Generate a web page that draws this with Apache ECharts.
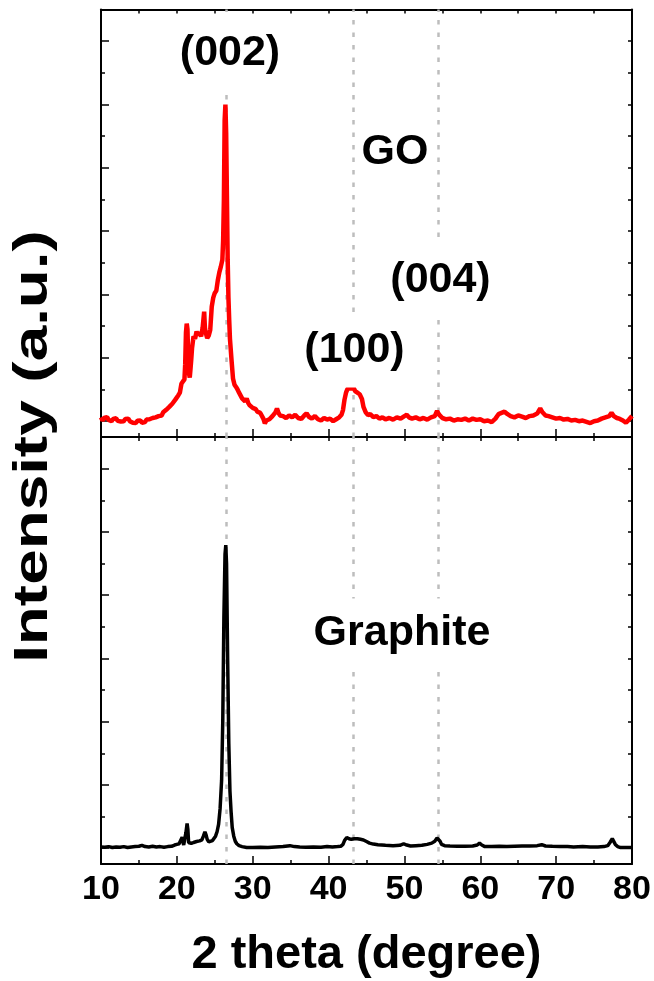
<!DOCTYPE html>
<html>
<head>
<meta charset="utf-8">
<script src="https://cdn.jsdelivr.net/npm/echarts@6/dist/echarts.min.js"></script>
<style>
html, body { margin: 0; padding: 0; background: #fff; }
#main { width: 654px; height: 981px; }
</style>
</head>
<body>
<div id="main"></div>
<script>
var myChart = echarts.init(document.getElementById('main'));

// [2theta (degree), intensity (a.u.)]
var goPattern = [
    [10.0, 62], [10.2, 52], [10.4, 60], [10.6, 55], [10.8, 63], [11.0, 54], [11.2, 58], [11.4, 50],
    [11.6, 57], [11.8, 52], [12.0, 59], [12.2, 51], [12.4, 56], [12.6, 49], [12.8, 55], [13.0, 50],
    [13.2, 57], [13.4, 52], [13.6, 58], [13.8, 50], [14.0, 54], [14.2, 45], [14.4, 50], [14.6, 44],
    [14.8, 51], [15.0, 46], [15.2, 52], [15.4, 45], [15.6, 50], [15.8, 47], [16.0, 55], [16.2, 49],
    [16.4, 56], [16.6, 52], [16.8, 60], [17.0, 55], [17.2, 62], [17.4, 58], [17.6, 66], [17.8, 72],
    [18.0, 68], [18.2, 78], [18.4, 75], [18.6, 86], [18.8, 82], [19.0, 95], [19.2, 92], [19.4, 105],
    [19.6, 108], [19.8, 118], [20.0, 122], [20.2, 132], [20.4, 140], [20.6, 168], [20.8, 175], [21.0, 182],
    [21.1, 230], [21.2, 330], [21.3, 358], [21.4, 340], [21.5, 245], [21.6, 200], [21.7, 188], [21.8, 215],
    [21.9, 245], [22.0, 280], [22.2, 318], [22.4, 310], [22.6, 333], [22.8, 322], [23.0, 330], [23.2, 318],
    [23.4, 345], [23.6, 396], [23.7, 345], [23.8, 330], [24.0, 312], [24.2, 320], [24.4, 338], [24.6, 412],
    [24.8, 440], [25.0, 455], [25.2, 462], [25.4, 495], [25.6, 520], [25.8, 538], [26.0, 560], [26.1, 620],
    [26.2, 748], [26.3, 1000], [26.4, 1050], [26.5, 960], [26.6, 760], [26.7, 560], [26.8, 440], [26.9, 370],
    [27.0, 310], [27.2, 245], [27.4, 185], [27.6, 165], [27.8, 158], [28.0, 150], [28.2, 140], [28.4, 136],
    [28.6, 122], [28.8, 118], [29.0, 112], [29.2, 122], [29.4, 108], [29.6, 100], [29.8, 96], [30.0, 92],
    [30.2, 86], [30.4, 88], [30.6, 80], [30.8, 83], [31.0, 76], [31.2, 74], [31.4, 58], [31.6, 43],
    [31.8, 52], [32.0, 48], [32.2, 56], [32.4, 60], [32.6, 66], [32.8, 72], [33.0, 78], [33.2, 90],
    [33.4, 76], [33.6, 68], [33.8, 62], [34.0, 66], [34.4, 60], [34.8, 68], [35.2, 62], [35.6, 70],
    [36.0, 60], [36.4, 57], [36.8, 68], [37.1, 75], [37.4, 64], [37.8, 58], [38.2, 66], [38.6, 56],
    [39.0, 52], [39.4, 60], [39.8, 55], [40.2, 58], [40.6, 50], [41.0, 56], [41.4, 62], [41.7, 70],
    [41.9, 85], [42.1, 118], [42.3, 140], [42.5, 152], [42.8, 158], [43.0, 150], [43.2, 160], [43.5, 145],
    [43.8, 140], [44.1, 135], [44.4, 120], [44.6, 95], [44.9, 78], [45.2, 69], [45.5, 72], [45.9, 63],
    [46.3, 66], [46.7, 58], [47.1, 62], [47.5, 56], [48.0, 60], [48.5, 55], [49.0, 62], [49.5, 58],
    [50.0, 66], [50.3, 70], [50.6, 62], [51.0, 58], [51.5, 62], [52.0, 56], [52.5, 60], [53.0, 55],
    [53.5, 62], [54.0, 66], [54.3, 82], [54.6, 70], [55.0, 60], [55.5, 56], [56.0, 58], [56.5, 52],
    [57.0, 56], [57.5, 54], [58.0, 58], [58.5, 52], [59.0, 58], [59.5, 54], [60.0, 56], [60.5, 50],
    [61.0, 52], [61.5, 47], [62.0, 58], [62.4, 72], [62.8, 76], [63.2, 80], [63.6, 72], [64.0, 66],
    [64.5, 62], [65.0, 68], [65.5, 64], [66.0, 60], [66.5, 66], [67.0, 68], [67.5, 74], [67.9, 90],
    [68.2, 78], [68.6, 68], [69.0, 66], [69.5, 62], [70.0, 58], [70.5, 60], [71.0, 55], [71.5, 57],
    [72.0, 52], [72.5, 54], [73.0, 50], [73.5, 52], [74.0, 48], [74.5, 44], [75.0, 50], [75.5, 52],
    [76.0, 58], [76.5, 62], [77.0, 66], [77.3, 76], [77.6, 66], [78.0, 60], [78.4, 57], [78.8, 52],
    [79.2, 45], [79.6, 55], [80.0, 66]
];

var graphitePattern = [
    [10.0, 54], [10.5, 53], [11.0, 55], [11.5, 52], [12.0, 54], [12.5, 53], [13.0, 55], [13.5, 52],
    [14.0, 54], [14.5, 55], [15.0, 56], [15.4, 59], [15.8, 55], [16.3, 54], [16.8, 56], [17.3, 54],
    [17.8, 55], [18.3, 53], [18.8, 55], [19.3, 56], [19.7, 60], [20.0, 62], [20.3, 64], [20.5, 68],
    [20.7, 85], [20.8, 70], [20.9, 60], [21.05, 58], [21.2, 100], [21.35, 128], [21.45, 110], [21.55, 68],
    [21.7, 62], [21.9, 65], [22.2, 68], [22.6, 71], [23.0, 73], [23.3, 76], [23.5, 88], [23.7, 102],
    [23.85, 92], [24.0, 78], [24.2, 70], [24.4, 68], [24.7, 74], [24.9, 80], [25.1, 88], [25.3, 102],
    [25.5, 125], [25.7, 175], [25.9, 265], [26.05, 450], [26.2, 780], [26.35, 980], [26.45, 1008], [26.55, 950],
    [26.7, 640], [26.85, 380], [27.0, 230], [27.15, 165], [27.3, 115], [27.5, 88], [27.7, 72], [27.9, 64],
    [28.2, 58], [28.6, 55], [29.2, 52], [30.0, 52], [31.0, 53], [32.0, 52], [33.0, 54], [34.0, 55],
    [34.9, 58], [35.5, 55], [36.2, 54], [37.0, 53], [38.0, 54], [39.0, 53], [39.8, 55], [40.5, 54],
    [41.2, 55], [41.6, 56], [41.9, 62], [42.1, 74], [42.4, 84], [42.7, 80], [43.0, 78], [43.4, 80],
    [43.8, 80], [44.2, 78], [44.6, 76], [45.0, 71], [45.4, 66], [45.9, 63], [46.5, 61], [47.5, 59],
    [48.5, 58], [49.4, 59], [49.9, 64], [50.1, 68], [50.3, 60], [50.8, 57], [51.5, 58], [52.3, 59],
    [53.0, 62], [53.6, 66], [54.0, 72], [54.3, 82], [54.5, 88], [54.7, 72], [54.9, 62], [55.3, 58],
    [56.0, 57], [57.0, 56], [58.0, 56], [59.0, 57], [59.6, 60], [59.9, 66], [60.2, 60], [60.6, 55],
    [61.5, 55], [62.5, 56], [63.5, 55], [64.5, 56], [65.5, 57], [66.5, 57], [67.5, 58], [68.1, 61],
    [68.6, 57], [69.5, 56], [70.5, 55], [71.5, 55], [72.3, 54], [73.5, 55], [74.5, 54], [75.5, 54],
    [76.3, 55], [76.8, 58], [77.1, 68], [77.4, 80], [77.6, 76], [77.8, 62], [78.1, 55], [78.5, 52],
    [79.2, 52], [80.0, 52]
];

// reflection positions marked with dotted lines
var peakLines = [26.5, 43.2, 54.5];

// y ticks (no labels)
var majorTicks = [50, 250, 450, 650, 850, 1050, 1250];
var minorTicks = [150, 350, 550, 750, 950, 1150];
var yMax = 1350;

var FONT = 'Liberation Sans';
var black = '#000';

function xAxisPair(grid, withLabels) {
    var tick = { inside: true, length: 8, lineStyle: { color: black, width: 1.5 } };
    return [{
        gridIndex: grid,
        type: 'value',
        position: 'bottom',
        min: 10,
        max: 80,
        interval: 10,
        axisLine: { onZero: false, lineStyle: { color: black, width: 2 } },
        axisTick: tick,
        minorTick: { show: true, splitNumber: 2, length: 4, lineStyle: { color: black, width: 1.5 } },
        splitLine: { show: false },
        axisLabel: {
            show: withLabels,
            margin: 9,
            color: black,
            fontSize: 34,
            fontWeight: 'bold',
            fontFamily: FONT
        },
        name: withLabels ? '2 theta (degree)' : '',
        nameLocation: 'middle',
        nameGap: 68,
        nameTextStyle: { color: black, fontSize: 47, fontWeight: 'bold', fontFamily: FONT }
    }, {
        gridIndex: grid,
        type: 'value',
        position: 'top',
        min: 10,
        max: 80,
        interval: 10,
        axisLine: { onZero: false, lineStyle: { color: black, width: 2 } },
        axisTick: { inside: true, length: 4, lineStyle: { color: black, width: 1.5 } },
        minorTick: { show: true, splitNumber: 2, length: 4, lineStyle: { color: black, width: 1.5 } },
        splitLine: { show: false },
        axisLabel: { show: false }
    }];
}

function yAxisSet(grid) {
    var base = {
        gridIndex: grid,
        type: 'value',
        min: 0,
        max: yMax,
        splitLine: { show: false },
        axisLabel: { show: false }
    };
    return [
        Object.assign({}, base, {
            position: 'left',
            axisLine: { show: true, onZero: false, lineStyle: { color: black, width: 2 } },
            axisTick: { show: true, inside: true, length: 8, customValues: majorTicks, lineStyle: { color: black, width: 1.5 } }
        }),
        Object.assign({}, base, {
            position: 'left',
            axisLine: { show: false },
            axisTick: { show: true, inside: true, length: 4, customValues: minorTicks, lineStyle: { color: black, width: 1.5 } }
        }),
        Object.assign({}, base, {
            position: 'right',
            axisLine: { show: true, onZero: false, lineStyle: { color: black, width: 2 } },
            axisTick: { show: true, inside: true, length: 4, customValues: majorTicks.concat(minorTicks), lineStyle: { color: black, width: 1.5 } }
        })
    ];
}

function guideSeries(xi, yi) {
    return {
        type: 'line',
        xAxisIndex: xi,
        yAxisIndex: yi,
        data: [],
        z: 1,
        silent: true,
        markLine: {
            silent: true,
            z: 1,
            symbol: 'none',
            animation: false,
            label: { show: false },
            lineStyle: { color: '#bdbdbd', width: 2.5, type: [4.5, 8] },
            data: peakLines.map(function (v) { return { xAxis: v }; })
        }
    };
}

function tag(text, x, y, pad) {
    return {
        type: 'text',
        x: x,
        y: y,
        z: 10,
        silent: true,
        style: {
            text: text,
            fill: black,
            font: 'bold 43px ' + FONT,
            align: 'center',
            verticalAlign: 'middle',
            backgroundColor: '#fff',
            padding: pad
        }
    };
}

option = {
    backgroundColor: '#fff',
    animation: false,
    grid: [
        { left: 101, right: 22, top: 9.5, height: 427.5 },
        { left: 101, right: 22, top: 437, height: 427 }
    ],
    xAxis: xAxisPair(0, false).concat(xAxisPair(1, true)),
    yAxis: yAxisSet(0).concat(yAxisSet(1)),
    graphic: [
        {
            type: 'text',
            x: 34,
            y: 446.5,
            rotation: Math.PI / 2,
            scaleX: 1.33,
            silent: true,
            style: {
                text: 'Intensity (a.u.)',
                fill: black,
                font: 'bold 48px ' + FONT,
                align: 'center',
                verticalAlign: 'middle'
            }
        },
        tag('(002)', 230, 53, [20, 4, 14, 4]),
        tag('GO', 395, 152, [18, 4, 13, 4]),
        tag('(100)', 354.5, 350, [25, 4, 7, 4]),
        tag('(004)', 440.5, 280, [18, 4, 11, 4]),
        tag('Graphite', 402, 633, [14, 4, 12, 4])
    ],
    series: [
        guideSeries(0, 0),
        guideSeries(2, 3),
        {
            name: 'GO',
            type: 'line',
            xAxisIndex: 0,
            yAxisIndex: 0,
            data: goPattern,
            showSymbol: false,
            z: 3,
            lineStyle: { color: '#ff0000', width: 4.5 }
        },
        {
            name: 'Graphite',
            type: 'line',
            xAxisIndex: 2,
            yAxisIndex: 3,
            data: graphitePattern,
            showSymbol: false,
            z: 3,
            lineStyle: { color: black, width: 3.5 }
        }
    ]
};

myChart.setOption(option);
</script>
</body>
</html>
